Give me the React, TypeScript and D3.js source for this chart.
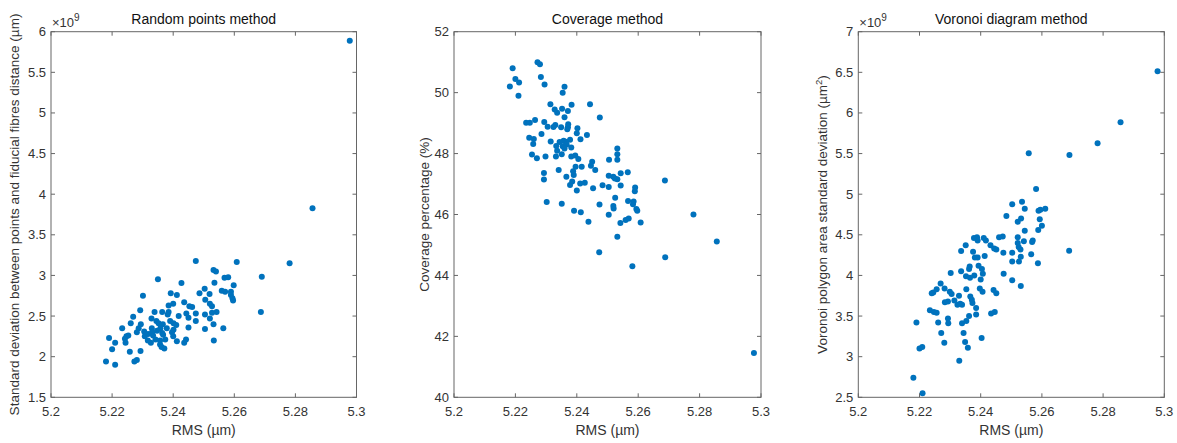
import React from "react";
import * as d3 from "d3";

// RMS (µm) vs standard deviation (×1e9 µm) — random points method
const randomPoints: [number, number][] = [
  [5.2978, 5.889], [5.2856, 3.826], [5.2781, 3.149], [5.269, 2.985], [5.2687, 2.55],
  [5.2608, 3.166], [5.2474, 3.178], [5.235, 2.953], [5.2427, 2.907], [5.2532, 3.067],
  [5.254, 3.047], [5.2568, 2.97], [5.258, 2.977], [5.2535, 2.91], [5.2503, 2.836],
  [5.2519, 2.77], [5.2486, 2.78], [5.2598, 2.88], [5.2559, 2.81], [5.257, 2.8],
  [5.2589, 2.8], [5.2589, 2.76], [5.2594, 2.72], [5.2596, 2.69], [5.2301, 2.75],
  [5.2392, 2.78], [5.2412, 2.76], [5.2436, 2.67], [5.2505, 2.7], [5.252, 2.65],
  [5.2527, 2.62], [5.2453, 2.62], [5.2462, 2.61], [5.2385, 2.63], [5.24, 2.65],
  [5.2292, 2.57], [5.2339, 2.55], [5.2364, 2.55], [5.2385, 2.55], [5.2382, 2.52],
  [5.2269, 2.49], [5.2418, 2.5], [5.2443, 2.53], [5.2474, 2.53], [5.2504, 2.52],
  [5.2527, 2.54], [5.2542, 2.55], [5.252, 2.47], [5.245, 2.48], [5.2329, 2.47],
  [5.2345, 2.44], [5.2352, 2.41], [5.239, 2.44], [5.2261, 2.41], [5.2294, 2.4],
  [5.2366, 2.4], [5.2401, 2.41], [5.241, 2.39], [5.2474, 2.44], [5.2532, 2.4],
  [5.2233, 2.35], [5.2287, 2.35], [5.233, 2.35], [5.2358, 2.35], [5.2379, 2.35],
  [5.2401, 2.33], [5.245, 2.36], [5.2504, 2.34], [5.2564, 2.35], [5.2305, 2.31],
  [5.2281, 2.3], [5.2331, 2.3], [5.2364, 2.29], [5.2396, 2.3], [5.2247, 2.25],
  [5.2253, 2.26], [5.2307, 2.25], [5.2334, 2.26], [5.2367, 2.27], [5.24, 2.25],
  [5.219, 2.23], [5.2242, 2.22], [5.2317, 2.2], [5.2342, 2.21], [5.2357, 2.2],
  [5.2374, 2.21], [5.2412, 2.19], [5.2442, 2.21], [5.2533, 2.2], [5.221, 2.17],
  [5.2244, 2.17], [5.2327, 2.17], [5.2357, 2.15], [5.2371, 2.1], [5.2362, 2.12],
  [5.22, 2.09], [5.2258, 2.06], [5.2293, 2.07], [5.218, 1.94], [5.221, 1.9],
  [5.2273, 1.94], [5.2281, 1.96], [5.2436, 2.17], [5.2318, 2.28], [5.2347, 2.32],
];

// RMS (µm) vs coverage percentage (%)
const coverage: [number, number][] = [
  [5.2977, 41.45], [5.2856, 45.11], [5.278, 46.0], [5.2687, 47.12], [5.2688, 44.6],
  [5.2581, 44.3], [5.2473, 44.76], [5.2532, 45.27], [5.2608, 45.74], [5.2597, 46.12],
  [5.2594, 46.18], [5.2583, 46.34], [5.2585, 46.43], [5.2567, 46.44], [5.2569, 45.87],
  [5.2559, 45.82], [5.2542, 45.72], [5.252, 46.2], [5.2519, 46.28], [5.2525, 46.55],
  [5.2504, 45.99], [5.2474, 46.33], [5.2438, 45.76], [5.2413, 46.07], [5.2391, 46.12],
  [5.2351, 46.35], [5.2302, 46.41], [5.2589, 46.76], [5.259, 46.89], [5.2566, 47.39],
  [5.2543, 46.95], [5.2543, 47.35], [5.2532, 47.16], [5.2524, 47.18], [5.2519, 47.24],
  [5.2504, 47.27], [5.2484, 46.96], [5.2504, 46.9], [5.2453, 46.86], [5.2532, 48.17],
  [5.2532, 47.98], [5.2532, 47.8], [5.2505, 47.8], [5.2475, 49.18], [5.2443, 49.62],
  [5.2433, 48.61], [5.245, 47.73], [5.2446, 47.6], [5.246, 47.46], [5.2416, 47.57],
  [5.2396, 47.57], [5.2426, 47.04], [5.2411, 47.02], [5.24, 46.79], [5.2385, 47.08],
  [5.2378, 46.97], [5.239, 47.3], [5.2388, 47.42], [5.2405, 47.82], [5.2382, 47.9],
  [5.2382, 48.2], [5.2378, 48.45], [5.2412, 48.47], [5.24, 48.67], [5.2402, 48.83],
  [5.2371, 48.86], [5.2372, 48.96], [5.2369, 48.8], [5.2383, 49.6], [5.2371, 49.4],
  [5.2352, 49.47], [5.236, 49.19], [5.236, 50.19], [5.2354, 50.0], [5.2349, 48.86],
  [5.233, 48.94], [5.2324, 48.87], [5.2305, 48.88], [5.2294, 49.04], [5.2314, 49.62],
  [5.2336, 49.34], [5.2328, 49.45], [5.2315, 48.4], [5.2333, 48.25], [5.2336, 48.09],
  [5.2332, 47.9], [5.2344, 48.38], [5.2354, 48.24], [5.2351, 47.98], [5.2357, 48.42],
  [5.2364, 48.39], [5.2367, 48.3], [5.236, 48.17], [5.2341, 47.46], [5.2366, 47.24],
  [5.2298, 47.9], [5.2293, 47.36], [5.2293, 47.15], [5.2285, 48.64], [5.227, 47.85],
  [5.2254, 47.97], [5.226, 48.48], [5.2245, 48.52], [5.2258, 48.31], [5.2235, 49.01],
  [5.2247, 49.01], [5.2264, 49.1], [5.2283, 50.51], [5.2295, 50.27], [5.2272, 51.0],
  [5.228, 50.93], [5.2191, 50.8], [5.22, 50.45], [5.2212, 50.33], [5.2182, 50.2],
  [5.221, 49.9], [5.2395, 47.94],
];

// RMS (µm) vs Voronoi polygon area standard deviation (×1e9 µm²)
const voronoi: [number, number][] = [
  [5.2978, 6.512], [5.2857, 5.884], [5.2782, 5.626], [5.269, 5.482], [5.2689, 4.305],
  [5.2557, 5.503], [5.2581, 5.064], [5.2587, 4.149], [5.2611, 4.822], [5.2589, 4.797],
  [5.2595, 4.81], [5.2535, 4.908], [5.2503, 4.875], [5.2544, 4.822], [5.2532, 4.7],
  [5.2521, 4.66], [5.2593, 4.69], [5.26, 4.61], [5.2588, 4.56], [5.2544, 4.55],
  [5.2484, 4.73], [5.2521, 4.47], [5.2521, 4.4], [5.2524, 4.35], [5.2541, 4.42],
  [5.257, 4.43], [5.2568, 4.41], [5.2565, 4.26], [5.253, 4.32], [5.2531, 4.23],
  [5.2525, 4.17], [5.2503, 4.28], [5.2503, 4.17], [5.2503, 3.94], [5.2531, 3.87],
  [5.2475, 4.02], [5.2474, 4.28], [5.246, 4.47], [5.2472, 4.48], [5.2451, 4.32],
  [5.2444, 4.33], [5.2432, 4.37], [5.2417, 4.43], [5.241, 4.46], [5.2413, 4.24],
  [5.2388, 4.47], [5.2378, 4.46], [5.239, 4.43], [5.2375, 4.29], [5.2381, 4.22],
  [5.239, 4.22], [5.2393, 4.12], [5.2404, 4.08], [5.2364, 4.11], [5.2362, 4.08],
  [5.2407, 4.02], [5.2379, 4.0], [5.24, 3.95], [5.2352, 3.99], [5.2365, 3.97],
  [5.2336, 4.3], [5.2351, 4.37], [5.2336, 4.05], [5.2302, 4.03], [5.2269, 3.9],
  [5.2397, 3.84], [5.2406, 3.8], [5.2442, 3.82], [5.2451, 3.78], [5.2353, 3.83],
  [5.2366, 3.74], [5.2371, 3.7], [5.2373, 3.66], [5.2329, 3.75], [5.2299, 3.8],
  [5.2305, 3.77], [5.2282, 3.84], [5.2256, 3.83], [5.2245, 3.79], [5.224, 3.78],
  [5.2293, 3.68], [5.2283, 3.67], [5.2314, 3.69], [5.2324, 3.64], [5.2333, 3.65],
  [5.2339, 3.64], [5.2385, 3.6], [5.2385, 3.52], [5.2362, 3.5], [5.2353, 3.44],
  [5.2339, 3.41], [5.2434, 3.53], [5.2446, 3.55], [5.2234, 3.57], [5.2247, 3.55],
  [5.2256, 3.54], [5.2261, 3.42], [5.2293, 3.47], [5.2294, 3.41], [5.219, 3.42],
  [5.2271, 3.29], [5.2344, 3.29], [5.2281, 3.17], [5.2349, 3.18], [5.2358, 3.11],
  [5.2403, 3.23], [5.22, 3.1], [5.2209, 3.12], [5.233, 2.95], [5.218, 2.74],
  [5.221, 2.55],
];

const xTicks = [5.2, 5.22, 5.24, 5.26, 5.28, 5.3];
const yTicksRandom = [1.5, 2, 2.5, 3, 3.5, 4, 4.5, 5, 5.5, 6];
const yTicksCoverage = [40, 42, 44, 46, 48, 50, 52];
const yTicksVoronoi = [2.5, 3, 3.5, 4, 4.5, 5, 5.5, 6, 6.5, 7];

const titles = ["Random points method", "Coverage method", "Voronoi diagram method"];

const FONT = "'Liberation Sans', Arial, Helvetica, sans-serif";
const TEXT = "#333";
const AXIS = "#666";
const DOT = "#0072BD";
const TOP = 31.7;
const BOTTOM = 397.3;

type PanelProps = {
  left: number;
  right: number;
  title: string;
  data: [number, number][];
  yDomain: [number, number];
  yTicks: number[];
  exponent: boolean;
  yLabel: React.ReactNode;
  yLabelX: number;
};

function Panel({ left, right, title, data, yDomain, yTicks, exponent, yLabel, yLabelX }: PanelProps) {
  const x = d3.scaleLinear().domain([5.2, 5.3]).range([left, right]);
  const y = d3.scaleLinear().domain(yDomain).range([BOTTOM, TOP]);
  const tl = 4;
  const cx = (left + right) / 2;
  const cy = (TOP + BOTTOM) / 2;
  return (
    <g>
      {data.map((d, i) => (
        <circle key={i} cx={x(d[0])} cy={y(d[1])} r={3} fill={DOT} />
      ))}
      <rect x={left} y={TOP} width={right - left} height={BOTTOM - TOP} fill="none" stroke={AXIS} strokeWidth={1} />
      {xTicks.map((t) => (
        <g key={"x" + t}>
          <line x1={x(t)} x2={x(t)} y1={BOTTOM} y2={BOTTOM - tl} stroke={AXIS} />
          <line x1={x(t)} x2={x(t)} y1={TOP} y2={TOP + tl} stroke={AXIS} />
          <text x={x(t)} y={BOTTOM + 19} textAnchor="middle" fontSize={13} fill={TEXT}>
            {t === 5.2 || t === 5.3 ? String(t) : t.toFixed(2)}
          </text>
        </g>
      ))}
      {yTicks.map((t) => (
        <g key={"y" + t}>
          <line x1={left} x2={left + tl} y1={y(t)} y2={y(t)} stroke={AXIS} />
          <line x1={right} x2={right - tl} y1={y(t)} y2={y(t)} stroke={AXIS} />
          <text x={left - 5} y={y(t) + 4.5} textAnchor="end" fontSize={13} fill={TEXT}>
            {String(t)}
          </text>
        </g>
      ))}
      {exponent && (
        <text x={left + 1} y={TOP - 4.5} fontSize={13} fill={TEXT}>
          ×10<tspan dy={-6} fontSize={10}>9</tspan>
        </text>
      )}
      <text x={cx} y={24} textAnchor="middle" fontSize={14} fill="#111">
        {title}
      </text>
      <text x={cx} y={BOTTOM + 38} textAnchor="middle" fontSize={14} fill={TEXT}>
        RMS (µm)
      </text>
      <text
        transform={`translate(${yLabelX},${cy}) rotate(-90)`}
        textAnchor="middle"
        fontSize={13.5}
        fill={TEXT}
      >
        {yLabel}
      </text>
    </g>
  );
}

export default function App() {
  return (
    <svg
      width={1177}
      height={443}
      style={{ position: "absolute", left: 0, top: 0, background: "#fff", fontFamily: FONT }}
    >
      <rect width={1177} height={443} fill="#fff" />
      <Panel
        left={51}
        right={356.5}
        title={titles[0]}
        data={randomPoints}
        yDomain={[1.5, 6]}
        yTicks={yTicksRandom}
        exponent={true}
        yLabel="Standard deviation between points and fiducial fibres distance (µm)"
        yLabelX={19}
      />
      <Panel
        left={454}
        right={761}
        title={titles[1]}
        data={coverage}
        yDomain={[40, 52]}
        yTicks={yTicksCoverage}
        exponent={false}
        yLabel="Coverage percentage (%)"
        yLabelX={429}
      />
      <Panel
        left={858.3}
        right={1164.3}
        title={titles[2]}
        data={voronoi}
        yDomain={[2.5, 7]}
        yTicks={yTicksVoronoi}
        exponent={true}
        yLabel={
          <>
            Voronoi polygon area standard deviation (µm
            <tspan dy={-5} fontSize={9.5}>2</tspan>
            <tspan dy={5}>)</tspan>
          </>
        }
        yLabelX={827}
      />
    </svg>
  );
}
